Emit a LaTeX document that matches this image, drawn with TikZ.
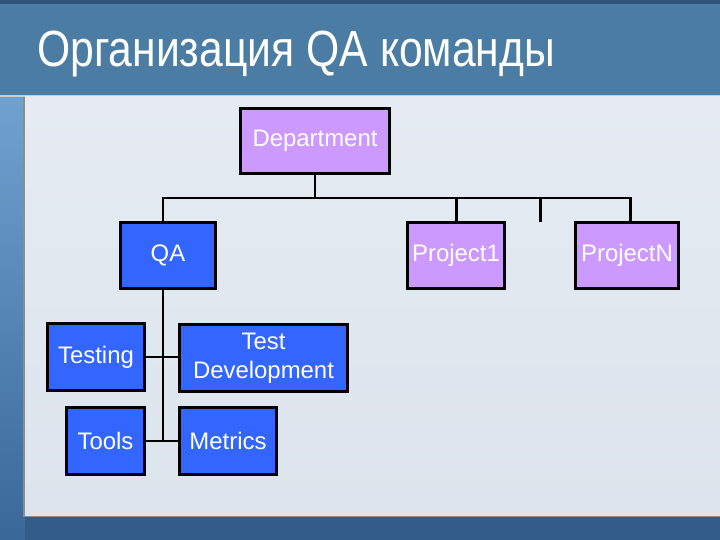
\documentclass[tikz,border=0pt]{standalone}
\usepackage{fontspec}
\setmainfont{Liberation Sans}
\newfontfamily\titlefont[FakeStretch=0.84]{Liberation Sans}
\usetikzlibrary{positioning}
\definecolor{cBand}{RGB}{74,124,164}
\definecolor{cBandTop}{RGB}{46,84,124}
\definecolor{cEdgeA}{RGB}{112,162,208}
\definecolor{cEdgeB}{RGB}{58,104,152}
\definecolor{cFoot}{RGB}{52,92,138}
\definecolor{cPanelA}{RGB}{230,235,242}
\definecolor{cPanelB}{RGB}{220,228,237}
\definecolor{cLilac}{RGB}{204,153,255}
\definecolor{cRoyal}{RGB}{51,102,255}
\tikzset{
  orgbox/.style={rectangle,draw=black,line width=3pt,text=white,
                 align=center,inner sep=0pt,
                 font=\fontsize{24}{29}\selectfont},
  deptnode/.style={orgbox,fill=cLilac,minimum height=66},
  teamnode/.style={orgbox,fill=cRoyal,minimum height=67},
  link/.style={line width=3pt,color=black}
}
\begin{document}
\begin{tikzpicture}[x=1bp,y=-1bp]
  \useasboundingbox (0,0) rectangle (720,540);

  % slide background
  \fill[cFoot] (0,0) rectangle (720,540);
  \shade[top color=cEdgeA,bottom color=cEdgeB] (0,96) rectangle (25,540);
  \fill[cBandTop] (0,0) rectangle (720,4);
  \fill[cBand] (0,4) rectangle (720,95);
  \fill[black!20] (0,95) rectangle (720,97);
  \fill[black!45] (23,97) rectangle (720,517);
  \shade[top color=cPanelA,bottom color=cPanelB] (25,97) rectangle (720,515);

  % title
  \node[anchor=base west,text=white,inner sep=0pt,
        font=\titlefont\fontsize{51}{60}\selectfont] (title) at (37,67)
      {Организация QA команды};

  % top level
  \node[deptnode,minimum width=150] (dept) at (315,141) {Department};
  \node[teamnode,minimum width=96] (qa) at (168,255.5) {QA};
  \node[deptnode,minimum width=97] (proj1) at (456,255.5) {Project1};
  \node[deptnode,minimum width=103] (projn) at (627,255.5) {ProjectN};

  % QA team
  \node[teamnode,minimum width=97] (testing) at (96,357) {Testing};
  \node[teamnode,minimum width=168] (testdev) at (263.5,358) {Test\\Development};
  \node[teamnode,minimum width=78] (tools) at (105.5,441) {Tools};
  \node[teamnode,minimum width=97] (metrics) at (228,441) {Metrics};

  \coordinate (bus) at (315,198);
  \coordinate (spine) at (163,0);
  \coordinate (stub) at (540,198);
  \coordinate (stubend) at (540,222);

  \draw[link] (dept.south) -- (bus);
  \draw[link] (qa.north -| spine) |- (bus) -| (projn.north -| 630,0);
  \draw[link] (proj1.north) -- (proj1.north |- bus);
  \draw[link] (stub) -- (stubend);
  \draw[link] (qa.south -| spine) -- (tools.east -| spine);
  \draw[link] (testing.east) -- (testdev.west |- testing.east);
  \draw[link] (tools.east) -- (metrics.west);

\end{tikzpicture}
\end{document}
